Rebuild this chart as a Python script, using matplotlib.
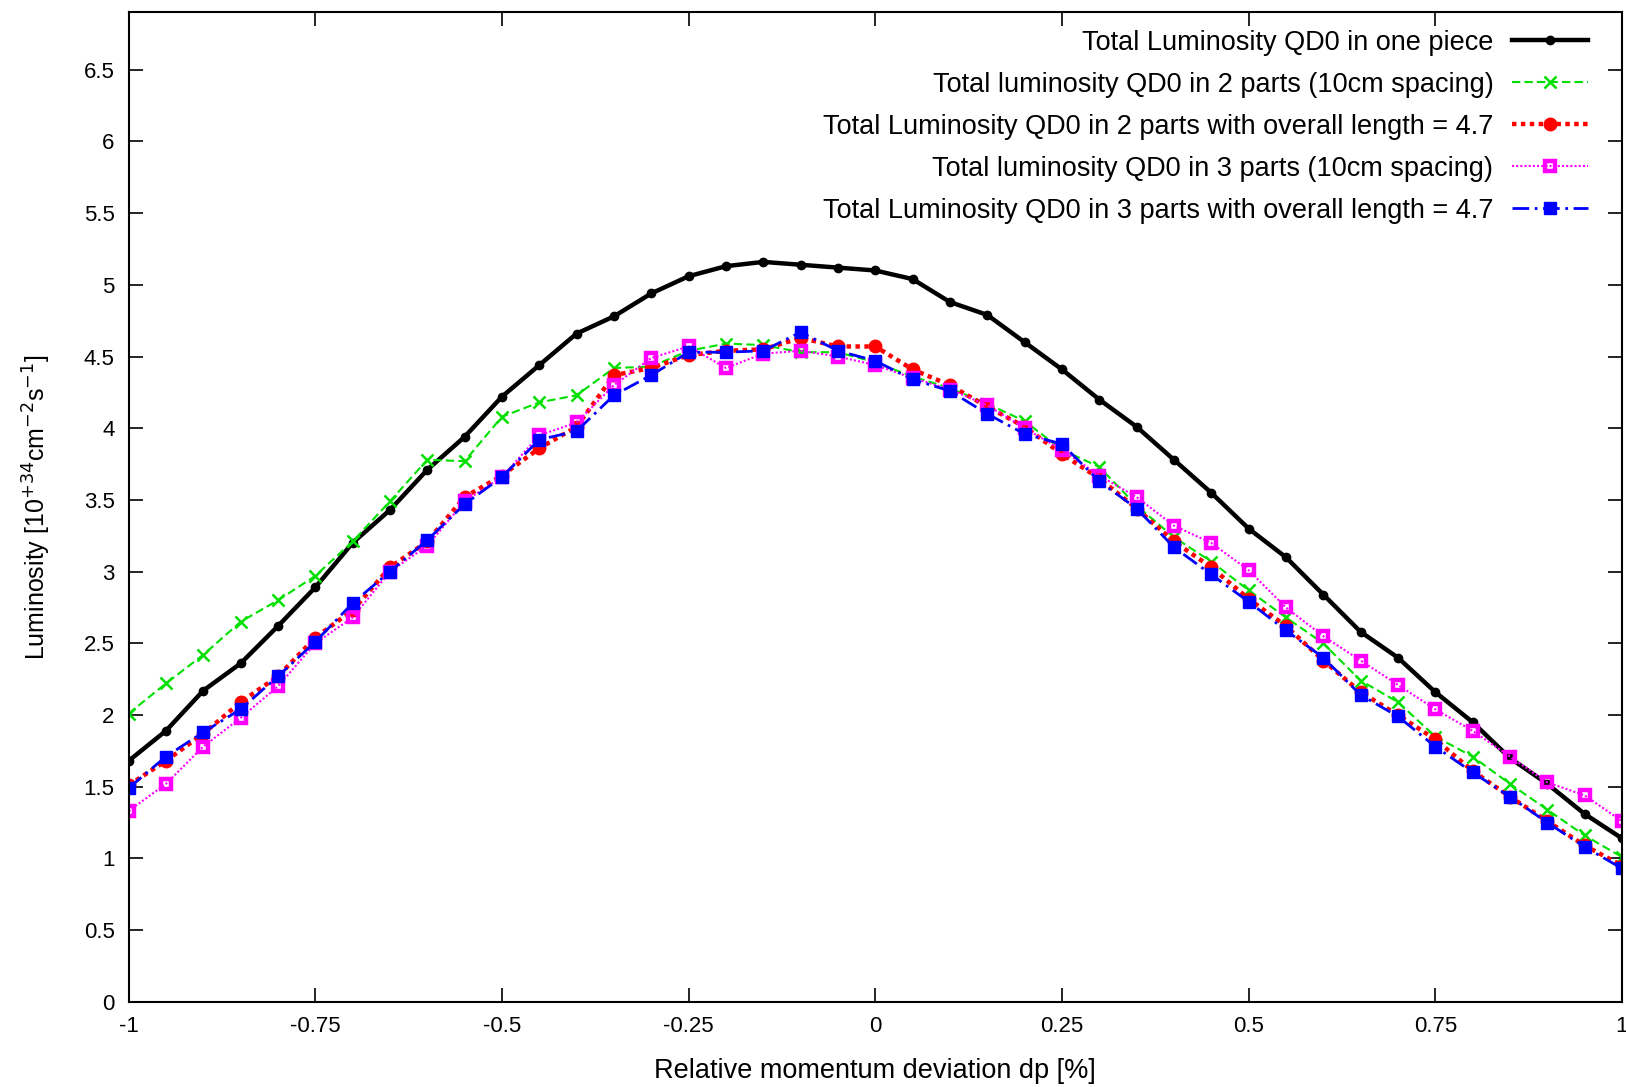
import matplotlib
matplotlib.use("Agg")
import matplotlib.pyplot as plt
from matplotlib.ticker import FuncFormatter

plt.rcParams['font.family'] = ['Liberation Sans', 'DejaVu Sans']

# relative momentum deviation dp [%]
dp = [-1.0, -0.95, -0.9, -0.85, -0.8, -0.75, -0.7, -0.65, -0.6, -0.55, -0.5,
      -0.45, -0.4, -0.35, -0.3, -0.25, -0.2, -0.15, -0.1, -0.05, 0.0,
      0.05, 0.1, 0.15, 0.2, 0.25, 0.3, 0.35, 0.4, 0.45, 0.5,
      0.55, 0.6, 0.65, 0.7, 0.75, 0.8, 0.85, 0.9, 0.95, 1.0]

one_piece = [1.68, 1.89, 2.17, 2.36, 2.62, 2.89, 3.20, 3.43, 3.71, 3.94, 4.22,
             4.44, 4.66, 4.78, 4.94, 5.06, 5.13, 5.16, 5.14, 5.12, 5.10,
             5.04, 4.88, 4.79, 4.60, 4.41, 4.20, 4.01, 3.78, 3.55, 3.30,
             3.10, 2.84, 2.58, 2.40, 2.16, 1.95, 1.70, 1.52, 1.31, 1.14]

two_parts_10cm = [2.01, 2.22, 2.42, 2.65, 2.80, 2.97, 3.21, 3.49, 3.78, 3.77, 4.08,
                  4.18, 4.23, 4.42, 4.43, 4.54, 4.59, 4.58, 4.53, 4.53, 4.46,
                  4.36, 4.28, 4.17, 4.05, 3.85, 3.73, 3.46, 3.24, 3.07, 2.87,
                  2.68, 2.50, 2.24, 2.09, 1.85, 1.71, 1.52, 1.34, 1.16, 1.01]

two_parts_47 = [1.51, 1.68, 1.87, 2.09, 2.27, 2.54, 2.73, 3.03, 3.21, 3.52, 3.67,
                3.86, 4.01, 4.37, 4.42, 4.51, 4.54, 4.55, 4.63, 4.57, 4.57,
                4.41, 4.30, 4.15, 4.01, 3.82, 3.65, 3.44, 3.21, 3.03, 2.81,
                2.62, 2.38, 2.16, 2.00, 1.83, 1.61, 1.43, 1.26, 1.09, 0.95]

three_parts_10cm = [1.33, 1.52, 1.78, 1.98, 2.20, 2.50, 2.68, 3.00, 3.18, 3.49, 3.66,
                    3.95, 4.04, 4.30, 4.49, 4.57, 4.42, 4.52, 4.54, 4.50, 4.44,
                    4.35, 4.27, 4.16, 4.00, 3.85, 3.67, 3.52, 3.32, 3.20, 3.01,
                    2.75, 2.55, 2.38, 2.21, 2.04, 1.89, 1.71, 1.53, 1.44, 1.26]

three_parts_47 = [1.49, 1.71, 1.88, 2.04, 2.27, 2.51, 2.78, 3.00, 3.22, 3.47, 3.66,
                  3.92, 3.98, 4.23, 4.37, 4.53, 4.53, 4.54, 4.67, 4.54, 4.47,
                  4.34, 4.26, 4.10, 3.96, 3.89, 3.63, 3.44, 3.17, 2.98, 2.79,
                  2.59, 2.40, 2.14, 1.99, 1.78, 1.60, 1.43, 1.25, 1.08, 0.93]

labels = ["Total Luminosity QD0 in one piece",
          "Total luminosity QD0 in 2 parts (10cm spacing)",
          "Total Luminosity QD0 in 2 parts with overall length = 4.7",
          "Total luminosity QD0 in 3 parts (10cm spacing)",
          "Total Luminosity QD0 in 3 parts with overall length = 4.7"]

xticks = [-1, -0.75, -0.5, -0.25, 0, 0.25, 0.5, 0.75, 1]
yticks = [0, 0.5, 1, 1.5, 2, 2.5, 3, 3.5, 4, 4.5, 5, 5.5, 6, 6.5]

fig = plt.figure(figsize=(16.26, 10.87), dpi=100)
ax = fig.add_axes([0.0791, 0.0784, 0.9184, 0.9102])

ax.plot(dp, one_piece, color='black', lw=3.2, ls='-', marker='o', ms=6, label=labels[0])
ax.plot(dp, two_parts_10cm, color='#00e000', lw=1.5, ls=(0, (4, 2)), marker='x', ms=9,
        mew=1.8, label=labels[1])
ax.plot(dp, two_parts_47, color='red', lw=3.2, ls=(0, (1, 1)), marker='o', ms=9,
        label=labels[2])
ax.plot(dp, three_parts_10cm, color='magenta', lw=1.5, ls=(0, (1, 1)), marker='s', ms=7,
        mfc='none', mew=3.2, label=labels[3])
ax.plot(dp, three_parts_47, color='blue', lw=2.0, ls=(0, (6, 2, 1, 2)), marker='s', ms=9,
        label=labels[4])

ax.set_xlim(-1, 1)
ax.set_ylim(0, 6.9)
ax.set_xticks(xticks)
ax.set_yticks(yticks)
fmt = FuncFormatter(lambda v, p: '%g' % v)
ax.xaxis.set_major_formatter(fmt)
ax.yaxis.set_major_formatter(fmt)
ax.tick_params(direction='in', length=10, width=1.2, top=True, right=True,
               labelsize=16, pad=10)
for s in ax.spines.values():
    s.set_linewidth(1.5)

ax.set_xlabel('Relative momentum deviation dp [%]', fontsize=19.5, labelpad=15)
ax.set_ylabel('Luminosity [10$^{+34}$cm$^{-2}$s$^{-1}$]', fontsize=18, labelpad=22)

leg = ax.legend(loc='upper right', bbox_to_anchor=(0.981, 0.988), markerfirst=False,
                frameon=False, fontsize=19.5, handlelength=2.8, labelspacing=0.59,
                borderaxespad=0, borderpad=0.2, handletextpad=0.7)

fig.savefig('out.png', dpi=100)
